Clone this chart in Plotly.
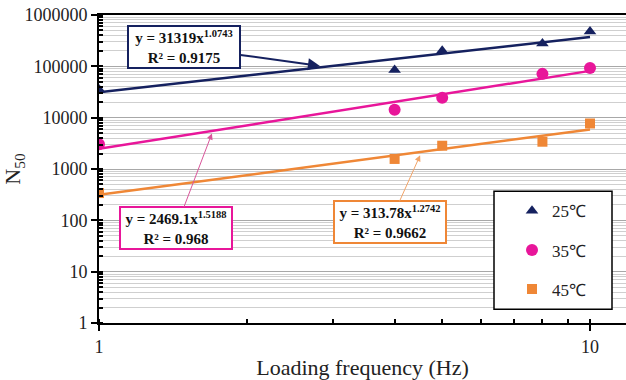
import plotly.graph_objects as go

# ---- data ----
freq = [1, 4, 5, 8, 10]
n50_25 = [35400, 85000, 201000, 280000, 477000]
n50_35 = [3050, 14300, 24500, 71300, 93000]
n50_45 = [340, 1570, 2840, 3400, 7700]

trend_x = [1, 10]
trend_25 = [31319, 371000]
trend_35 = [2469.1, 81600]
trend_45 = [313.78, 5900]

series_names = ["25℃", "35℃", "45℃"]
y_tickvals = [1, 10, 100, 1000, 10000, 100000, 1000000]
y_ticktext = ["1", "10", "100", "1000", "10000", "100000", "1000000"]
x_tickvals = [1, 10]
x_ticktext = ["1", "10"]

eq_25 = "<b>y = 31319x<sup>1.0743</sup></b><br><b>R² = 0.9175</b>"
eq_35 = "<b>y = 2469.1x<sup>1.5188</sup></b><br><b>R² = 0.968</b>"
eq_45 = "<b>y = 313.78x<sup>1.2742</sup></b><br><b>R² = 0.9662</b>"

NAVY = "#15215f"
PINK = "#e8169a"
ORANGE = "#ef8736"
FONT = "Liberation Serif"

fig = go.Figure()

# trend lines
for ty, col in [(trend_25, NAVY), (trend_35, PINK), (trend_45, ORANGE)]:
    fig.add_trace(go.Scatter(x=trend_x, y=ty, mode="lines",
                             line=dict(color=col, width=2.5),
                             showlegend=False, hoverinfo="skip"))

# data points
for i, (vals, col, sym, sz) in enumerate([
        (n50_25, NAVY, "triangle-up", 11),
        (n50_35, PINK, "circle", 12),
        (n50_45, ORANGE, "square", 10)]):
    fig.add_trace(go.Scatter(x=freq, y=vals, mode="markers", name=series_names[i],
                             legendgroup=f"g{i}",
                             marker=dict(color=col, symbol=sym, size=sz)))

# equation boxes with arrows pointing at the trend lines
# (arrow head in axis log units, box centre offset in pixels)
boxes = [
    (eq_25, NAVY, 0.450, 5.008, -135.5, -18.7, NAVY, 2),
    (eq_35, PINK, 0.230, 3.691, -36, 94.5, "#d9559a", 1),
    (eq_45, ORANGE, 0.654, 3.267, -30, 67, "#f2a468", 1),
]
for txt, col, hx, hy, ax, ay, acol, aw in boxes:
    fig.add_annotation(x=hx, y=hy, xref="x", yref="y", text=txt, showarrow=True,
                       ax=ax, ay=ay, arrowcolor=acol, arrowwidth=aw,
                       arrowhead=2, arrowsize=1.2,
                       font=dict(family=FONT, size=15, color="#111111"),
                       bordercolor=col, borderwidth=2, borderpad=2,
                       bgcolor="white", width=106, height=36, align="center")

# legend frame
fig.add_shape(type="rect", xref="paper", yref="paper",
              x0=(494 - 99) / 527, x1=(612 - 99) / 527,
              y0=(326 - 312) / 311, y1=(326 - 193) / 311,
              line=dict(color="black", width=1.5), fillcolor="white", layer="above")

fig.update_layout(
    width=626, height=380,
    margin=dict(l=99, r=0, t=15, b=54),
    paper_bgcolor="white", plot_bgcolor="white",
    font=dict(family=FONT, size=18, color="#222222"),
    legend=dict(x=(512 - 99) / 527, y=(326 - 195) / 311, xanchor="left", yanchor="top",
                bgcolor="rgba(0,0,0,0)", borderwidth=0,
                font=dict(family=FONT, size=17, color="#222222"),
                tracegroupgap=14),
    xaxis=dict(type="log", range=[0, 1.0733],
               tickvals=x_tickvals, ticktext=x_ticktext,
               ticks="outside", ticklen=6, tickwidth=1.5, tickcolor="black",
               showline=True, linecolor="black", linewidth=2, mirror=True,
               showgrid=False, zeroline=False,
               minor=dict(ticks="inside", ticklen=4, tickcolor="black",
                          dtick="D1", showgrid=False),
               title=dict(text="Loading frequency (Hz)",
                          font=dict(family=FONT, size=22, color="#222222"),
                          standoff=8)),
    yaxis=dict(type="log", range=[0, 6],
               tickvals=y_tickvals, ticktext=y_ticktext,
               ticks="outside", ticklen=6, tickwidth=1.5, tickcolor="black",
               showline=True, linecolor="black", linewidth=2,
               showgrid=True, gridcolor="#a8a8a8", gridwidth=1,
               zeroline=False,
               minor=dict(ticks="inside", ticklen=4, tickcolor="black",
                          dtick="D1", showgrid=True, gridcolor="#cfcfcf", gridwidth=1),
               title=dict(text="N<sub>50</sub>",
                          font=dict(family=FONT, size=22, color="#222222"),
                          standoff=4)),
)

fig.write_html("out.html")
